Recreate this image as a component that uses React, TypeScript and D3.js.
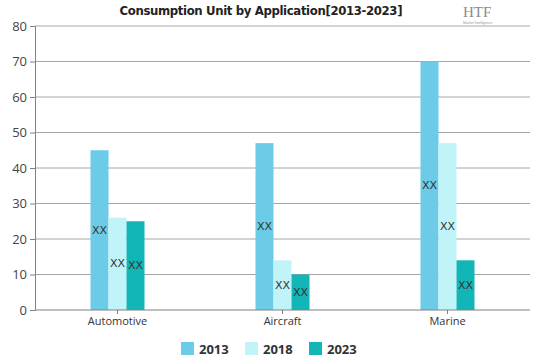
import React, { useEffect, useRef } from "react";
import * as d3 from "d3";

// chart values
const categories = ["Automotive", "Aircraft", "Marine"];
const years = ["2013", "2018", "2023"];
const values2013 = [45, 47, 70];
const values2018 = [26, 14, 47];
const values2023 = [25, 10, 14];
const yTicks = [0, 10, 20, 30, 40, 50, 60, 70, 80];
const colors = ["#6ccbe6", "#c0f4f9", "#13b6b6"];

const W = 539, H = 359;
const margin = { top: 26, right: 9, bottom: 49, left: 35 };

export default function App() {
  const ref = useRef<SVGSVGElement>(null);

  useEffect(() => {
    const svg = d3.select(ref.current);
    svg.selectAll("*").remove();

    const series = [values2013, values2018, values2023];
    const x0 = d3.scaleBand().domain(categories).range([margin.left, W - margin.right]);
    const y = d3.scaleLinear().domain([0, 80]).range([H - margin.bottom, margin.top]);
    const barW = 18;
    const x1 = d3.scaleBand().domain(years).range([-barW * 1.5, barW * 1.5]);

    // grid
    svg.append("g")
      .selectAll("line")
      .data(yTicks.slice(1))
      .enter().append("line")
      .attr("x1", margin.left).attr("x2", W - margin.right)
      .attr("y1", d => y(d)).attr("y2", d => y(d))
      .attr("stroke", "#a6a6a6").attr("stroke-width", 1);

    // y axis
    const yAxis = d3.axisLeft(y).tickValues(yTicks).tickSize(5).tickPadding(3);
    const yg = svg.append("g").attr("transform", `translate(${margin.left},0)`).call(yAxis);
    yg.select(".domain").attr("stroke", "#808080");
    yg.selectAll(".tick line").attr("stroke", "#808080");
    yg.selectAll(".tick text").attr("fill", "#444").style("font-size", "13px")
      .style("font-family", "'Open Sans', sans-serif");

    // bars
    categories.forEach((c, ci) => {
      const g = svg.append("g").attr("transform", `translate(${x0(c)! + x0.bandwidth() / 2},0)`);
      years.forEach((yr, si) => {
        const v = series[si][ci];
        g.append("rect")
          .attr("x", x1(yr)!)
          .attr("width", barW)
          .attr("y", y(v))
          .attr("height", y(0) - y(v))
          .attr("fill", colors[si]);
        g.append("text")
          .attr("x", x1(yr)! + barW / 2)
          .attr("y", y(v / 2))
          .attr("text-anchor", "middle")
          .attr("dominant-baseline", "central")
          .attr("fill", "#333")
          .style("font-size", "11px")
          .style("font-family", "'DejaVu Sans', sans-serif")
          .text("XX");
      });
    });

    // x axis
    const xAxis = d3.axisBottom(x0).tickSize(4).tickPadding(3);
    const xg = svg.append("g").attr("transform", `translate(0,${y(0)})`).call(xAxis);
    xg.select(".domain").attr("stroke", "#808080").attr("d", `M${margin.left},0H${W - margin.right}`);
    xg.selectAll(".tick line").attr("stroke", "#808080");
    xg.selectAll(".tick text").attr("fill", "#333").style("font-size", "11px")
      .style("font-family", "'Open Sans', sans-serif");

    // title
    svg.append("text")
      .attr("x", 261).attr("y", 15)
      .attr("text-anchor", "middle")
      .attr("fill", "#222")
      .style("font-size", "13px").style("font-weight", "bold")
      .style("font-family", "'DejaVu Sans Condensed', sans-serif")
      .attr("textLength", 283)
      .text("Consumption Unit by  Application[2013-2023]");

    // logo
    svg.append("text").attr("x", 463).attr("y", 17)
      .attr("fill", "#8a8a8a").style("font-size", "15px")
      .style("font-family", "'Liberation Serif', serif").text("HTF");
    svg.append("text").attr("x", 463).attr("y", 24)
      .attr("fill", "#999").style("font-size", "3.5px")
      .style("font-family", "sans-serif").text("Market Intelligence");

    // legend
    const lg = svg.append("g").attr("transform", `translate(181,342)`);
    years.forEach((yr, i) => {
      const gi = lg.append("g").attr("transform", `translate(${i * 64},0)`);
      gi.append("rect").attr("width", 13).attr("height", 13).attr("fill", colors[i]);
      gi.append("text").attr("x", 18).attr("y", 11.5)
        .attr("fill", "#333").style("font-size", "13px").style("font-weight", "bold")
        .style("font-family", "'Open Sans', sans-serif").text(yr);
    });
  }, []);

  return <svg ref={ref} width={W} height={H} style={{ position: "absolute", left: 0, top: 0 }} />;
}
